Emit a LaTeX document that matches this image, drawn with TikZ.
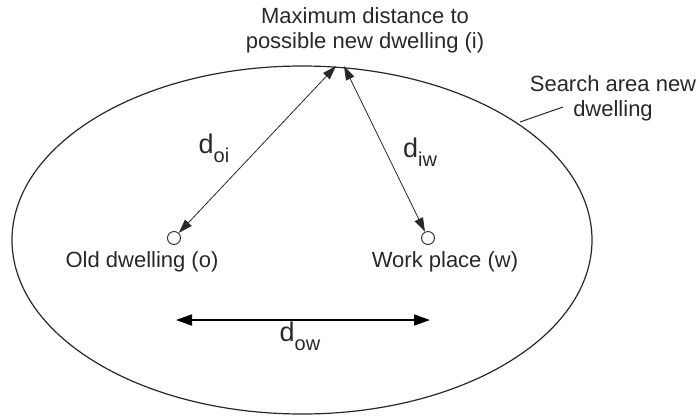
\documentclass[tikz,border=0pt]{standalone}
\usepackage{fontspec}
\setmainfont{Liberation Sans}
\usetikzlibrary{positioning, arrows.meta, calc}
\definecolor{cL}{RGB}{40,40,40}

\newcommand{\dist}[1]{\fontsize{27}{27}\selectfont d\raisebox{-9pt}{\fontsize{20}{20}\selectfont #1}}

\begin{document}
\begin{tikzpicture}[x=1pt, y=-1pt, thick,
                    every node/.style={text=cL, font=\fontsize{22}{25}\selectfont},
                    place/.style={circle, draw=cL, line width=0.9pt, fill=white, minimum size=13pt, inner sep=0pt},
                    arr/.style={{Triangle[length=14pt, width=9pt]}-{Triangle[length=14pt, width=9pt]}, draw=cL, line width=0.8pt},
                    bigarr/.style={{Triangle[length=16pt, width=11pt]}-{Triangle[length=16pt, width=11pt]}, draw=black, line width=1.8pt}]

    \useasboundingbox (0,0) rectangle (696,416);

    % Search area
    \draw[cL, line width=1.2pt] (302,240) ellipse (290 and 174);

    % Points
    \coordinate (i) at (340,66);
    \node[place] (o) at (174,238) {};
    \node[place] (w) at (428,238) {};
    \coordinate (ow1) at (176,320);
    \coordinate (ow2) at (430,320);
    \coordinate (edge) at (520,122);
    \coordinate (lead) at (563,107);

    % Labels
    \node[align=center] (top) at (365,30) {Maximum distance to\\possible new dwelling (i)};
    \node[align=center] (area) at (613,98) {Search area new\\dwelling};
    \node (ol) at (142,262) {Old dwelling (o)};
    \node (wl) at (445,262) {Work place (w)};
    \node (doi) at (214,148) {\dist{oi}};
    \node (diw) at (420,152) {\dist{iw}};
    \node (dow) at (300,336) {\dist{ow}};

    % Distances
    \draw[arr] ([xshift=-4pt]i) -- (o);
    \draw[arr] ([xshift=4pt]i) -- (w);
    \draw[bigarr] (ow1) -- (ow2);
    \draw[cL, line width=1pt] (edge) -- (lead);

\end{tikzpicture}
\end{document}
